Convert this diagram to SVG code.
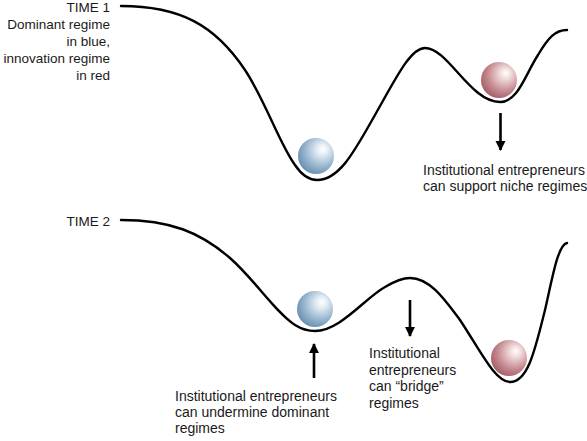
<svg xmlns="http://www.w3.org/2000/svg" width="587" height="441" viewBox="0 0 587 441">
<style>
text{font-family:"Liberation Sans",Arial,Helvetica,sans-serif;font-size:14px;fill:#1a1a1a}
.lab{font-size:13.5px;text-anchor:end}
.curve{fill:none;stroke:#000;stroke-width:2.4;stroke-linecap:round}
.arr{stroke:#000;stroke-width:2.6;fill:none}
</style>
<defs>
<radialGradient id="gb" cx="0.62" cy="0.38" r="0.72" fx="0.7" fy="0.3">
<stop offset="0" stop-color="#ffffff"/>
<stop offset="0.2" stop-color="#e6eef5"/>
<stop offset="0.65" stop-color="#93b2cd"/>
<stop offset="1" stop-color="#5f86ab"/>
</radialGradient>
<radialGradient id="gr" cx="0.62" cy="0.38" r="0.72" fx="0.7" fy="0.3">
<stop offset="0" stop-color="#ffffff"/>
<stop offset="0.2" stop-color="#f2dede"/>
<stop offset="0.65" stop-color="#c4888e"/>
<stop offset="1" stop-color="#9e5660"/>
</radialGradient>
<marker id="ah" viewBox="0 0 10 10" refX="9" refY="5" markerWidth="4" markerHeight="4" orient="auto" markerUnits="strokeWidth">
<path d="M0,0 L10,5 L0,10 z" fill="#000"/>
</marker>
</defs>
<g id="landscape-time1">
<path class="curve" d="M121,6 C180,6 215,25 245,70 C265,100 280,145 295,165 C303,177 310,180 317,180 C340,180 355,150 375,115 C395,80 410,48 425,48 C448,48 470,102 500,102 C518,102 525,75 538,55 C548,38 555,30 567,30"/>
</g>
<g id="landscape-time2">
<path class="curve" d="M121,220 C170,220 200,232 230,258 C255,280 275,312 295,325 C303,330 308,331 315,331 C340,331 365,298 385,287 C395,281 402,278 410,278 C430,278 445,300 460,320 C480,350 495,382 510,382 C528,382 535,350 545,310 C553,275 558,245 567,243"/>
</g>
<g id="ball-blue-1"><circle cx="316" cy="156" r="18" fill="url(#gb)"/></g>
<g id="ball-red-1"><circle cx="499" cy="80" r="18" fill="url(#gr)"/></g>
<g id="ball-blue-2"><circle cx="315" cy="309" r="18" fill="url(#gb)"/></g>
<g id="ball-red-2"><circle cx="509" cy="358" r="18" fill="url(#gr)"/></g>
<g id="connectors">
<line class="arr" x1="500.5" y1="113" x2="500.5" y2="150" marker-end="url(#ah)"/>
<line class="arr" x1="314" y1="378" x2="314" y2="344" marker-end="url(#ah)"/>
<line class="arr" x1="410" y1="300" x2="410" y2="336" marker-end="url(#ah)"/>
</g>
<g id="label-time1">
<text class="lab" x="110" y="12">TIME 1</text>
<text class="lab" x="110" y="29">Dominant regime</text>
<text class="lab" x="110" y="46">in blue,</text>
<text class="lab" x="110" y="63">innovation regime</text>
<text class="lab" x="110" y="79.5">in red</text>
</g>
<g id="label-time2">
<text class="lab" x="110" y="226">TIME 2</text>
</g>
<g id="label-support">
<text x="423" y="175">Institutional entrepreneurs</text>
<text x="423" y="191">can support niche regimes</text>
</g>
<g id="label-undermine">
<text x="175" y="400.5">Institutional entrepreneurs</text>
<text x="175" y="417">can undermine dominant</text>
<text x="175" y="433">regimes</text>
</g>
<g id="label-bridge">
<text x="369" y="358">Institutional</text>
<text x="369" y="374.5">entrepreneurs</text>
<text x="369" y="391">can “bridge”</text>
<text x="369" y="407.5">regimes</text>
</g>
</svg>
